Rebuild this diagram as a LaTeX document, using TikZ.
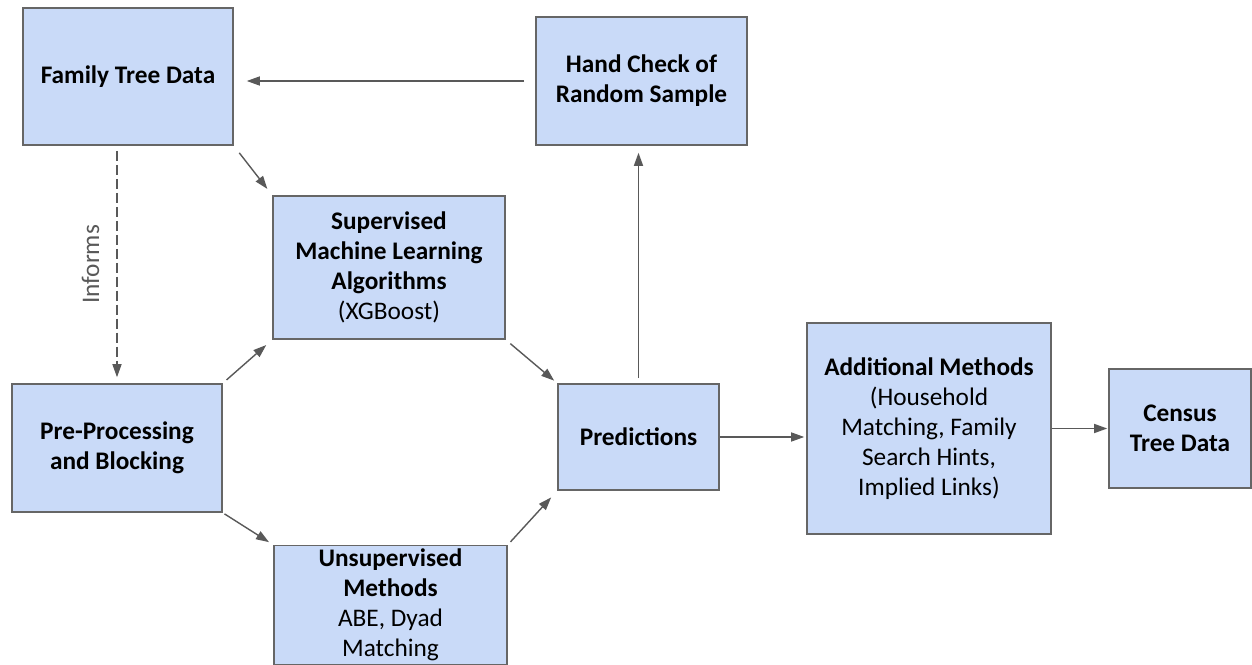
\documentclass[tikz,border=0pt]{standalone}
\usepackage{fontspec}
\setmainfont{Carlito}
\usetikzlibrary{arrows.meta}

\begin{document}
\begin{tikzpicture}[x=0.02cm, y=-0.02cm]
	
	% Define the colours of the boxes and the lines
	\definecolor{boxblue}{HTML}{C9DAF8}
	\definecolor{boxline}{HTML}{666666}
	\definecolor{arrowgray}{HTML}{595959}
	% Define a style for the boxes and one for the arrows
	\tikzset{
		stage/.style={
			draw=boxline, fill=boxblue, line width=0.9pt,
			align=center, inner sep=2pt,
			font=\fontsize{14.4}{17}\selectfont
		},
		flow/.style={
			draw=arrowgray, line width=0.8pt,
			-{Triangle[length=0.26cm, width=0.18cm]}
		}
	}
	\useasboundingbox (0,0) rectangle (1252,665);
	
	% top row
	\node[stage, minimum width=4.2cm, minimum height=2.74cm] (famtree) at (128,76.5) {\textbf{Family Tree Data}};
	\node[stage, minimum width=4.22cm, minimum height=2.56cm] (handcheck) at (641.5,81) {\textbf{Hand Check of}\\\textbf{Random Sample}};
	
	% the two kinds of matching
	\node[stage, minimum width=4.64cm, minimum height=2.86cm] (superv) at (389,267.5) {\textbf{Supervised}\\\textbf{Machine Learning}\\\textbf{Algorithms}\\(XGBoost)};
	\node[stage, minimum width=4.66cm, minimum height=2.36cm] (unsuperv) at (390.5,605) {\textbf{Unsupervised}\\\textbf{Methods}\\ABE, Dyad\\Matching};
	
	% left box
	\node[stage, minimum width=4.2cm, minimum height=2.56cm] (preproc) at (117,448) {\textbf{Pre-Processing}\\\textbf{and Blocking}};
	
	% right row
	\node[stage, minimum width=3.22cm, minimum height=2.12cm] (pred) at (638.5,437) {\textbf{Predictions}};
	\node[stage, minimum width=4.88cm, minimum height=4.22cm] (addmeth) at (929,428.5) {\textbf{Additional Methods}\\(Household\\Matching, Family\\Search Hints,\\Implied Links)};
	\node[stage, minimum width=2.84cm, minimum height=2.38cm] (census) at (1180,428.5) {\textbf{Census}\\\textbf{Tree Data}};
	
	% dashed line with its label
	\draw[flow, dash pattern=on 0.2cm off 0.08cm, shorten <=0.1cm, shorten >=0.12cm] (famtree.south -| preproc.north) -- (preproc.north)
		node[midway, rotate=90, anchor=south, inner sep=0.34cm, text=arrowgray, font=\fontsize{14.4}{17}\selectfont] (informs) {Informs};
	
	% arrows
	\draw[flow, shorten <=0.18cm, shorten >=0.16cm] (famtree.south east) -- (superv.north west);
	\draw[flow, shorten <=0.1cm, shorten >=0.16cm] (preproc.north east) -- (superv.south west);
	\draw[flow, shorten <=0.04cm, shorten >=0.1cm] (preproc.south east) -- (unsuperv.north west);
	\draw[flow, shorten <=0.12cm, shorten >=0.08cm] (superv.south east) -- (pred.north west);
	\draw[flow, shorten <=0.08cm, shorten >=0.18cm] (unsuperv.north east) -- (pred.south west);
	\draw[flow, shorten <=0.1cm, shorten >=0.14cm] (pred.north) -- (pred.north |- handcheck.south);
	\draw[flow, shorten <=0.22cm, shorten >=0.26cm] (handcheck.west) -- (handcheck.west -| famtree.east);
	\draw[flow, shorten >=0.04cm] (pred.east) -- (pred.east -| addmeth.west);
	\draw[flow, shorten >=0.02cm] (addmeth.east) -- (addmeth.east -| census.west);
	
\end{tikzpicture}
\end{document}
